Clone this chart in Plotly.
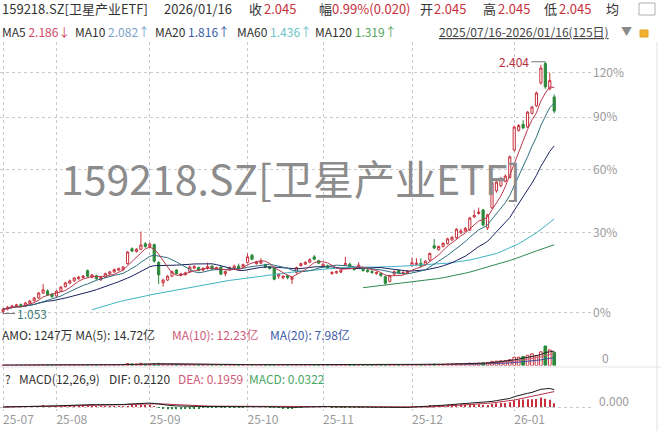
import math
import plotly.graph_objects as go
import pandas as pd

W, H = 661, 431
FONT = "Noto Sans CJK SC, Noto Sans, sans-serif"

# ---------------- data ----------------
month_tick_index = [0, 12, 33, 55, 72, 92, 115]
month_tick_text = ["25-07", "25-08", "25-09", "25-10", "25-11", "25-12", "26-01"]

BASE = 1.055                     # 0% reference price of the right axis
pct_ticks = [0, 30, 60, 90, 120]

open_ = [
    # Jul
    1.060, 1.068, 1.075, 1.079, 1.084, 1.079, 1.089, 1.098, 1.108, 1.126, 1.134, 1.122,
    # Aug
    1.115, 1.133, 1.150, 1.163, 1.172, 1.180, 1.185, 1.212, 1.186, 1.192, 1.176, 1.186, 1.199, 1.207,
    1.214, 1.216, 1.240, 1.302, 1.290, 1.300, 1.324,
    # Sep
    1.312, 1.320, 1.245, 1.165, 1.175, 1.190, 1.214, 1.193, 1.196, 1.208, 1.222, 1.224, 1.214, 1.220,
    1.230, 1.218, 1.226, 1.200, 1.215, 1.222, 1.230, 1.226,
    # Oct
    1.245, 1.275, 1.240, 1.242, 1.236, 1.228, 1.222, 1.190, 1.184, 1.192, 1.178, 1.205, 1.232, 1.238,
    1.246, 1.268, 1.252,
    # Nov
    1.230, 1.232, 1.200, 1.203, 1.206, 1.236, 1.238, 1.222, 1.226, 1.218, 1.214, 1.209, 1.200, 1.200,
    1.188, 1.170, 1.198, 1.212, 1.200, 1.203,
    # Dec
    1.232, 1.236, 1.242, 1.236, 1.255, 1.315, 1.298, 1.312, 1.325, 1.340, 1.350, 1.372, 1.380, 1.385,
    1.445, 1.462, 1.479, 1.394, 1.489, 1.575, 1.600, 1.625, 1.645,
    # Jan
    1.800, 1.920, 1.958, 1.941, 2.030, 2.080, 2.243, 2.390, 2.200, 2.142,
]
high = [
    1.072, 1.079, 1.083, 1.087, 1.088, 1.094, 1.101, 1.112, 1.130, 1.160, 1.140, 1.126,
    1.137, 1.152, 1.168, 1.177, 1.187, 1.191, 1.195, 1.216, 1.199, 1.196, 1.189, 1.204, 1.211, 1.220,
    1.224, 1.230, 1.292, 1.308, 1.305, 1.378, 1.330,
    1.328, 1.324, 1.250, 1.180, 1.194, 1.212, 1.218, 1.203, 1.207, 1.232, 1.234, 1.228, 1.226, 1.244,
    1.234, 1.228, 1.230, 1.212, 1.228, 1.236, 1.240, 1.240,
    1.282, 1.280, 1.252, 1.262, 1.240, 1.232, 1.226, 1.201, 1.194, 1.196, 1.190, 1.228, 1.244, 1.250,
    1.262, 1.276, 1.256,
    1.242, 1.236, 1.209, 1.212, 1.216, 1.268, 1.244, 1.226, 1.246, 1.222, 1.218, 1.213, 1.209, 1.204,
    1.192, 1.196, 1.212, 1.216, 1.209, 1.214,
    1.265, 1.262, 1.262, 1.254, 1.286, 1.345, 1.316, 1.330, 1.350, 1.358, 1.393, 1.390, 1.398, 1.446,
    1.478, 1.490, 1.484, 1.460, 1.622, 1.630, 1.648, 1.662, 1.768,
    1.950, 1.960, 1.985, 2.045, 2.080, 2.180, 2.380, 2.404, 2.320, 2.160,
]
low = [
    1.053, 1.064, 1.071, 1.075, 1.074, 1.076, 1.086, 1.095, 1.105, 1.122, 1.115, 1.108,
    1.112, 1.130, 1.146, 1.159, 1.168, 1.176, 1.181, 1.186, 1.182, 1.176, 1.172, 1.183, 1.195, 1.203,
    1.210, 1.212, 1.236, 1.288, 1.286, 1.296, 1.306,
    1.306, 1.245, 1.160, 1.150, 1.171, 1.186, 1.196, 1.189, 1.192, 1.204, 1.218, 1.209, 1.210, 1.216,
    1.214, 1.214, 1.194, 1.190, 1.211, 1.218, 1.216, 1.222,
    1.240, 1.254, 1.236, 1.238, 1.222, 1.216, 1.174, 1.180, 1.178, 1.178, 1.160, 1.200, 1.228, 1.234,
    1.242, 1.254, 1.238,
    1.226, 1.218, 1.196, 1.199, 1.202, 1.232, 1.224, 1.212, 1.222, 1.208, 1.204, 1.200, 1.196, 1.188,
    1.155, 1.166, 1.194, 1.198, 1.196, 1.199,
    1.228, 1.232, 1.226, 1.232, 1.250, 1.300, 1.294, 1.308, 1.320, 1.336, 1.346, 1.366, 1.375, 1.380,
    1.440, 1.456, 1.400, 1.385, 1.484, 1.565, 1.594, 1.618, 1.640,
    1.792, 1.912, 1.928, 1.935, 2.022, 2.072, 2.230, 2.200, 2.190, 2.030,
]
close = [
    1.068, 1.075, 1.079, 1.083, 1.078, 1.090, 1.097, 1.108, 1.126, 1.138, 1.119, 1.113,
    1.133, 1.148, 1.164, 1.172, 1.183, 1.186, 1.190, 1.190, 1.195, 1.180, 1.185, 1.200, 1.207, 1.216,
    1.220, 1.226, 1.288, 1.292, 1.300, 1.318, 1.312,
    1.322, 1.250, 1.195, 1.175, 1.190, 1.208, 1.200, 1.199, 1.203, 1.226, 1.228, 1.213, 1.220, 1.228,
    1.218, 1.224, 1.198, 1.208, 1.224, 1.230, 1.220, 1.236,
    1.268, 1.258, 1.248, 1.250, 1.226, 1.220, 1.178, 1.197, 1.190, 1.184, 1.185, 1.224, 1.240, 1.245,
    1.256, 1.258, 1.242,
    1.238, 1.222, 1.205, 1.208, 1.212, 1.240, 1.228, 1.216, 1.234, 1.212, 1.208, 1.204, 1.205, 1.192,
    1.163, 1.192, 1.208, 1.202, 1.205, 1.210,
    1.244, 1.242, 1.230, 1.250, 1.282, 1.305, 1.312, 1.325, 1.345, 1.352, 1.388, 1.380, 1.392, 1.440,
    1.452, 1.468, 1.408, 1.455, 1.616, 1.620, 1.640, 1.652, 1.760,
    1.941, 1.950, 1.935, 2.038, 2.072, 2.170, 2.355, 2.214, 2.260, 2.045,
]
# turnover amount, 亿
amount = [
    0.3, 0.3, 0.2, 0.3, 0.2, 0.3, 0.4, 0.4, 0.5, 0.8, 0.5, 0.4,
    0.6, 0.8, 1.0, 0.9, 0.8, 0.7, 0.7, 1.0, 0.8, 0.9, 0.6, 0.8, 0.9, 0.7, 0.8, 0.9, 2.0, 1.6, 1.4, 2.2, 1.5,
    1.6, 2.0, 2.2, 1.5, 1.2, 1.3, 1.0, 0.9, 0.8, 1.0, 0.9, 0.8, 0.8, 0.9, 0.8, 0.7, 0.9, 0.7, 0.8, 0.7, 0.7, 0.8,
    1.0, 0.9, 0.8, 0.7, 0.7, 0.6, 1.0, 0.8, 0.6, 0.6, 0.8, 0.9, 0.9, 0.8, 0.9, 0.8, 0.7,
    0.7, 0.7, 0.6, 0.5, 0.5, 0.8, 0.6, 0.5, 0.6, 0.5, 0.5, 0.5, 0.5, 0.5, 0.8, 0.7, 0.6, 0.6, 0.5, 0.6,
    0.9, 0.8, 0.8, 0.9, 1.2, 1.5, 1.2, 1.3, 1.5, 1.6, 2.0, 1.8, 1.9, 2.4, 2.2, 2.4, 2.8, 3.0, 4.2, 4.5,
    4.8, 5.0, 6.0,
    8.5, 8.5, 9.2, 10.5, 12.0, 10.0, 14.0, 20.0, 16.0, 13.6,
]
# long moving averages (history before the window not shown)
ma60_start = 20
ma60_vals = [
    1.066, 1.071, 1.076, 1.080, 1.085, 1.090,
    1.094, 1.098, 1.101, 1.105, 1.108,
    1.112, 1.115, 1.119, 1.122, 1.126,
    1.129, 1.132, 1.136, 1.139, 1.142,
    1.145, 1.148, 1.151, 1.154, 1.157,
    1.160, 1.163, 1.166, 1.169, 1.172,
    1.174, 1.176, 1.178, 1.181, 1.183,
    1.185, 1.188, 1.190, 1.193, 1.195,
    1.197, 1.199, 1.201, 1.204, 1.206,
    1.208, 1.209, 1.211, 1.212, 1.214,
    1.216, 1.217, 1.219, 1.220, 1.222,
    1.223, 1.224, 1.225, 1.225, 1.226,
    1.226, 1.226, 1.226, 1.226, 1.226,
    1.227, 1.227, 1.228, 1.229, 1.230,
    1.231, 1.231, 1.232, 1.233, 1.234,
    1.235, 1.237, 1.238, 1.240, 1.242,
    1.244, 1.246, 1.249, 1.252, 1.255,
    1.259, 1.263, 1.267, 1.271, 1.276,
    1.282, 1.289, 1.297, 1.305, 1.314,
    1.324, 1.335, 1.346, 1.358, 1.372,
    1.387, 1.402, 1.419, 1.436,
]
ma120_start = 81
ma120_vals = [
    1.146, 1.148, 1.150, 1.152, 1.154, 1.156, 1.158, 1.160, 1.162, 1.164,
    1.166, 1.167, 1.169, 1.171, 1.172, 1.175, 1.178, 1.181, 1.184, 1.187,
    1.191, 1.195, 1.198, 1.202, 1.206, 1.211, 1.215, 1.220, 1.225, 1.230,
    1.235, 1.241, 1.247, 1.253, 1.259, 1.265, 1.272, 1.279, 1.286, 1.293,
    1.299, 1.306, 1.312, 1.319,
]

# ---------------- derived ----------------
n = len(close)
idx = list(range(n))
cs = pd.Series(close)
ma5 = cs.rolling(5, min_periods=1).mean()
ma10 = cs.rolling(10, min_periods=1).mean()
ma20 = cs.rolling(20, min_periods=1).mean()
am = pd.Series(amount)
vma5 = am.rolling(5, min_periods=1).mean()
vma10 = am.rolling(10, min_periods=1).mean()
vma20 = am.rolling(20, min_periods=1).mean()
ema12 = cs.ewm(span=12, adjust=False).mean()
ema26 = cs.ewm(span=26, adjust=False).mean()
dif = ema12 - ema26
dea = dif.ewm(span=9, adjust=False).mean()
hist = 2 * (dif - dea)

# ---------------- style ----------------
RED = "#c8303c"
GREEN = "#2b8a3a"
GRID = "#c9c9c9"
TXT = "#333333"
GRAY = "#9a9a9a"
X_RIGHT = 592


def fx(p):
    return p / W


def fy(p):
    return 1 - p / H


up = [c >= o for o, c in zip(open_, close)]

fig = go.Figure()

fig.add_trace(go.Candlestick(
    x=idx, open=open_, high=high, low=low, close=close,
    increasing=dict(line=dict(color=RED, width=1), fillcolor="white"),
    decreasing=dict(line=dict(color=GREEN, width=1), fillcolor=GREEN),
    whiskerwidth=0, xaxis="x", yaxis="y", hoverinfo="skip",
))
for series, xs, color in [
    (list(ma120_vals), idx[ma120_start:], "#2e8b4e"),
    (list(ma60_vals), idx[ma60_start:], "#3fb3c4"),
    (list(ma20), idx, "#1b2160"),
    (list(ma10), idx, "#2f6f80"),
    (list(ma5), idx, "#b8394f"),
]:
    fig.add_trace(go.Scatter(x=xs, y=series, mode="lines", line=dict(color=color, width=1),
                             xaxis="x", yaxis="y", hoverinfo="skip"))

# volume
fig.add_trace(go.Bar(
    x=idx, y=amount, width=0.6,
    marker=dict(color=["white" if u else GREEN for u in up],
                line=dict(color=[RED if u else GREEN for u in up], width=1)),
    xaxis="x2", yaxis="y2", hoverinfo="skip",
))
for series, color in [(vma20, "#3c4fa0"), (vma10, "#d05a78"), (vma5, "#222222")]:
    fig.add_trace(go.Scatter(x=idx, y=list(series), mode="lines", line=dict(color=color, width=1),
                             xaxis="x2", yaxis="y2", hoverinfo="skip"))

# MACD
fig.add_trace(go.Bar(
    x=idx, y=list(hist), width=0.22,
    marker=dict(color=[RED if h >= 0 else GREEN for h in hist], line=dict(width=0)),
    xaxis="x3", yaxis="y3", hoverinfo="skip",
))
fig.add_trace(go.Scatter(x=idx, y=list(dea), mode="lines", line=dict(color="#b8304a", width=1),
                         xaxis="x3", yaxis="y3", hoverinfo="skip"))
fig.add_trace(go.Scatter(x=idx, y=list(dif), mode="lines", line=dict(color="#1a1a1a", width=1),
                         xaxis="x3", yaxis="y3", hoverinfo="skip"))

xcommon = dict(domain=[0, fx(X_RIGHT)], range=[-0.7, 132.5], tickvals=month_tick_index,
               showgrid=True, gridcolor=GRID, griddash="dot", gridwidth=1, zeroline=False,
               showline=False, ticks="")

fig.update_layout(
    width=W, height=H, autosize=False,
    margin=dict(l=0, r=0, t=0, b=0),
    paper_bgcolor="white", plot_bgcolor="white",
    showlegend=False,
    font=dict(family=FONT, color=TXT, size=12),
    xaxis=dict(xcommon, anchor="y", showticklabels=False, rangeslider=dict(visible=False)),
    yaxis=dict(domain=[fy(322), fy(42)], type="log",
               range=[math.log10(1.024), math.log10(2.565)],
               side="right", anchor="x",
               tickvals=[BASE * (1 + p / 100) for p in pct_ticks],
               ticktext=[f"{p}%" for p in pct_ticks],
               tickfont=dict(size=12, color=GRAY, family=FONT),
               showgrid=True, gridcolor=GRID, griddash="dot", zeroline=False, ticks=""),
    xaxis2=dict(xcommon, anchor="y2", matches="x", showticklabels=False),
    yaxis2=dict(domain=[fy(365.5), fy(322)], range=[0, 44.6], anchor="x2",
                showgrid=False, showticklabels=False, zeroline=False),
    xaxis3=dict(xcommon, anchor="y3", matches="x", ticktext=month_tick_text,
                ticklabelposition="outside right",
                tickfont=dict(size=12, color=GRAY, family=FONT)),
    yaxis3=dict(domain=[fy(411), fy(367)], range=[-0.0513, 0.5128], anchor="x3",
                tickvals=[0], showticklabels=False, showgrid=True, gridcolor=GRID,
                griddash="dot", zeroline=False),
)

ann = []


def label(xp, yp, text, color=TXT, size=12, anchor="left"):
    ann.append(dict(x=fx(xp), y=fy(yp), xref="paper", yref="paper", text=text,
                    showarrow=False, xanchor=anchor, yanchor="middle",
                    font=dict(family=FONT, size=size, color=color)))


# header row 1
label(0, 9, "159218.SZ[卫星产业ETF]", size=13)
label(162, 9, "2026/01/16", size=13)
label(247, 9, "收", size=13)
label(262, 9, "2.045", color=RED, size=13)
label(317, 9, "幅", size=13)
label(330, 9, "0.99%(0.020)", color=RED, size=13)
label(418, 9, "开", size=13)
label(432, 9, "2.045", color=RED, size=13)
label(481, 9, "高", size=13)
label(496, 9, "2.045", color=RED, size=13)
label(542, 9, "低", size=13)
label(557, 9, "2.045", color=RED, size=13)
label(604, 9, "均", size=13)
# header row 2
label(0, 31, "MA5 <span style='color:#d44a64'>2.186↓</span>")
label(73, 31, "MA10 <span style='color:#7aa3c8'>2.082↑</span>")
label(153, 31, "MA20 <span style='color:#3a5aa8'>1.816↑</span>")
label(235, 31, "MA60 <span style='color:#6ec3c8'>1.436↑</span>")
label(313, 31, "MA120 <span style='color:#56a356'>1.319↑</span>")
label(437, 31, "<u>2025/07/16-2026/01/16(125日)</u>", color="#444444")
label(619, 31, "▼", color="#8a8a8a", size=11)
# volume row
label(0, 334, "AMO: 1247万 MA(5): 14.72亿")
label(170, 334, "MA(10): 12.23亿", color="#d05a78")
label(268, 334, "MA(20): 7.98亿", color="#3c5aa8")
label(600, 357, "0", color=GRAY)
# MACD row
label(3, 378, "?")
label(17, 378, "MACD(12,26,9)")
label(107, 378, "DIF: 0.2120")
label(176, 378, "DEA: 0.1959", color="#d05a78")
label(247, 378, "MACD: 0.0322", color="#4aa564")
label(597, 400, "0.000", color=GRAY)

# watermark
ann.append(dict(x=fx(291), y=fy(177), xref="paper", yref="paper",
                text="159218.SZ[卫星产业ETF]", showarrow=False,
                xanchor="center", yanchor="middle",
                font=dict(family=FONT, size=41, color="#8c8c8c")))

# high / low markers
hi_i = max(idx, key=lambda i: high[i])
lo_i = min(idx, key=lambda i: low[i])
ann.append(dict(x=hi_i, y=math.log10(high[hi_i]), xref="x", yref="y",
                text=f"{high[hi_i]:.3f}", showarrow=True, arrowhead=0, arrowwidth=0.8,
                arrowcolor="#555", ax=-14, ay=0, xanchor="right",
                font=dict(family=FONT, size=12, color="#b8303c")))
ann.append(dict(x=lo_i, y=math.log10(low[lo_i]), xref="x", yref="y",
                text=f"{low[lo_i]:.3f}", showarrow=True, arrowhead=0, arrowwidth=0.8,
                arrowcolor="#555", ax=12, ay=0, xanchor="left",
                font=dict(family=FONT, size=12, color="#3d7d78")))

fig.update_layout(annotations=ann)

shapes = [
    dict(type="line", xref="paper", yref="paper", x0=0, x1=1, y0=fy(367), y1=fy(367),
         line=dict(color="#e4e4e4", width=1)),
    dict(type="line", xref="paper", yref="paper", x0=fx(657), x1=fx(657), y0=0, y1=fy(42),
         line=dict(color="#e0e0e0", width=1)),
    dict(type="rect", xref="paper", yref="paper", x0=fx(639), x1=fx(655), y0=fy(15), y1=fy(3),
         line=dict(color="#b0b0b0", width=1), fillcolor="white"),
    dict(type="rect", xref="paper", yref="paper", x0=fx(640), x1=fx(648), y0=fy(37), y1=fy(30),
         line=dict(color="#e8a020", width=1), fillcolor="#f0b030"),
]
fig.update_layout(shapes=shapes)

fig.write_html("out.html",
               config={"displayModeBar": False},
               post_script="document.body.style.margin='0';document.body.style.overflow='hidden';")
